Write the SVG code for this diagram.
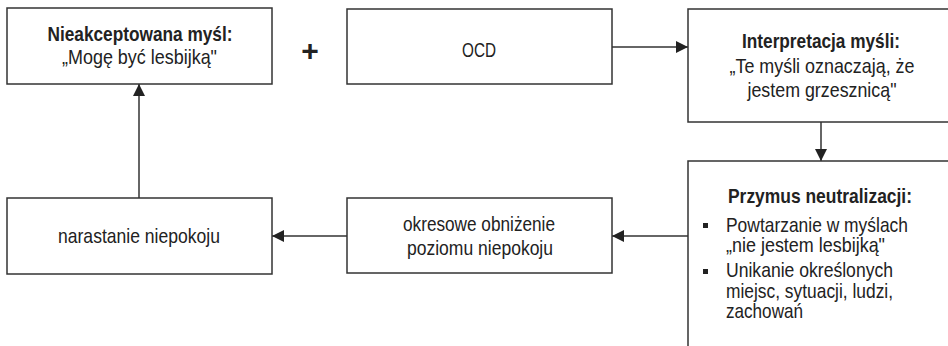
<svg xmlns="http://www.w3.org/2000/svg" width="948" height="346" viewBox="0 0 948 346">
  <style>
    .box { fill: #ffffff; stroke: #333333; stroke-width: 1.5; }
    .txt { font-family: "Liberation Sans Narrow", "Arial Narrow", "Liberation Sans", Arial, sans-serif; font-size: 21px; fill: #222222; }
    .b { font-weight: bold; }
    .c { text-anchor: middle; }
    .plus { font-family: "Liberation Sans", Arial, sans-serif; font-size: 30px; font-weight: bold; fill: #222222; text-anchor: middle; }
    .edge { fill: none; stroke: #333333; stroke-width: 1.5; }
    .bullet { fill: #222222; }
  </style>
  <defs>
    <marker id="arrow" viewBox="0 0 12 12" refX="12" refY="6" markerWidth="12" markerHeight="12" markerUnits="userSpaceOnUse" orient="auto">
      <path d="M0,0 L12,6 L0,12 Z" fill="#222222"/>
    </marker>
  </defs>

  <rect width="948" height="346" fill="#ffffff"/>

  <!-- connectors -->
  <g id="connectors">
    <line class="edge" x1="612" y1="47" x2="688" y2="47" marker-end="url(#arrow)"/>
    <line class="edge" x1="821" y1="122" x2="821" y2="161" marker-end="url(#arrow)"/>
    <line class="edge" x1="688" y1="236" x2="612" y2="236" marker-end="url(#arrow)"/>
    <line class="edge" x1="347" y1="236" x2="272" y2="236" marker-end="url(#arrow)"/>
    <line class="edge" x1="139" y1="198" x2="139" y2="84" marker-end="url(#arrow)"/>
  </g>

  <!-- unaccepted thought -->
  <g id="node-thought">
    <rect class="box" x="7" y="8" width="265" height="76"/>
    <text class="txt b c" x="140" y="41" textLength="185" lengthAdjust="spacingAndGlyphs">Nieakceptowana myśl:</text>
    <text class="txt c" x="139.5" y="64" textLength="155" lengthAdjust="spacingAndGlyphs">„Mogę być lesbijką"</text>
  </g>

  <!-- plus sign between the first two boxes -->
  <g id="plus">
    <text class="plus" x="310" y="60.5">+</text>
  </g>

  <!-- OCD -->
  <g id="node-ocd">
    <rect class="box" x="347" y="9" width="265" height="75"/>
    <text class="txt c" x="479" y="57" textLength="34" lengthAdjust="spacingAndGlyphs">OCD</text>
  </g>

  <!-- interpretation -->
  <g id="node-interpretation">
    <rect class="box" x="688" y="9" width="268" height="113"/>
    <text class="txt b c" x="821" y="48" textLength="158" lengthAdjust="spacingAndGlyphs">Interpretacja myśli:</text>
    <text class="txt c" x="822" y="73" textLength="185" lengthAdjust="spacingAndGlyphs">„Te myśli oznaczają, że</text>
    <text class="txt c" x="822" y="97" textLength="149" lengthAdjust="spacingAndGlyphs">jestem grzesznicą"</text>
  </g>

  <!-- compulsion to neutralise -->
  <g id="node-compulsion">
    <rect class="box" x="688" y="161" width="268" height="200"/>
    <text class="txt b c" x="820" y="203" textLength="184" lengthAdjust="spacingAndGlyphs">Przymus neutralizacji:</text>
    <rect class="bullet" x="703" y="223" width="5" height="5"/>
    <text class="txt" x="726" y="232" textLength="182" lengthAdjust="spacingAndGlyphs">Powtarzanie w myślach</text>
    <text class="txt" x="726" y="252" textLength="159" lengthAdjust="spacingAndGlyphs">„nie jestem lesbijką"</text>
    <rect class="bullet" x="703" y="269" width="5" height="5"/>
    <text class="txt" x="726" y="277" textLength="167" lengthAdjust="spacingAndGlyphs">Unikanie określonych</text>
    <text class="txt" x="726" y="298" textLength="167" lengthAdjust="spacingAndGlyphs">miejsc, sytuacji, ludzi,</text>
    <text class="txt" x="726" y="318" textLength="77" lengthAdjust="spacingAndGlyphs">zachowań</text>
  </g>

  <!-- temporary relief -->
  <g id="node-relief">
    <rect class="box" x="347" y="198" width="265" height="75"/>
    <text class="txt c" x="479" y="231" textLength="152" lengthAdjust="spacingAndGlyphs">okresowe obniżenie</text>
    <text class="txt c" x="480" y="255" textLength="146" lengthAdjust="spacingAndGlyphs">poziomu niepokoju</text>
  </g>

  <!-- rising anxiety -->
  <g id="node-anxiety">
    <rect class="box" x="7" y="198" width="265" height="76"/>
    <text class="txt c" x="139" y="243" textLength="162" lengthAdjust="spacingAndGlyphs">narastanie niepokoju</text>
  </g>
</svg>
